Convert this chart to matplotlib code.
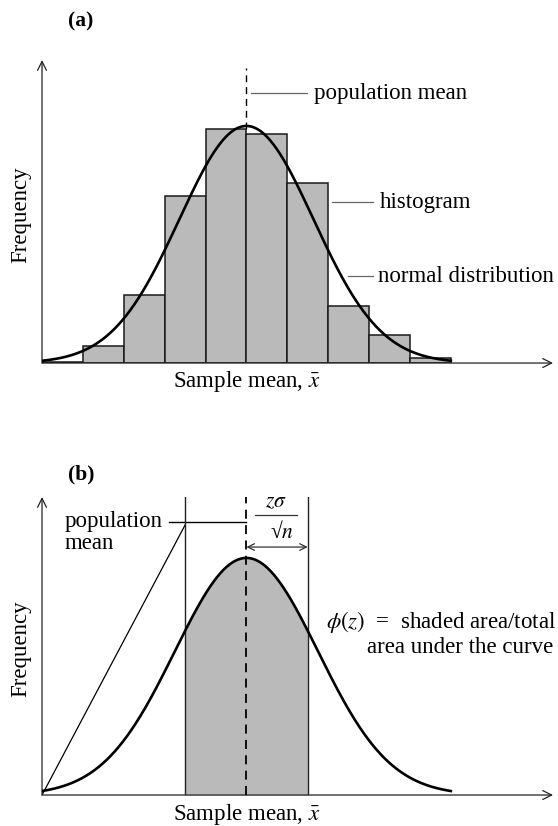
import numpy as np
import matplotlib
matplotlib.use("Agg")
from matplotlib import pyplot as plt

plt.rcParams['font.family'] = ['Liberation Serif', 'DejaVu Serif']
plt.rcParams['mathtext.fontset'] = 'stix'

# histogram of sample means, bins one unit wide centred on the population mean
bin_edges = [-5, -4, -3, -2, -1, 0, 1, 2, 3, 4]
frequencies = [0.4, 7.2, 28.7, 70.5, 98.7, 96.6, 76.0, 24.0, 11.8, 2.1]

# normal curves: mean, spread and peak height
MEAN = 0.0
SIGMA_A = 1.64
SIGMA_B = 1.75
PEAK = 100.0
Z = 1.5          # half width of the shaded band in (b)

X_MIN, X_MAX = -5.0, 7.5
FS = 16.5
LEADER = dict(color="#666666", lw=0.9)
FILL = "#bababa"


def normal(x, sigma):
    return PEAK * np.exp(-0.5 * ((x - MEAN) / sigma) ** 2)


def draw_axes(ax, top):
    ax.set_xlim(X_MIN, X_MAX)
    ax.set_ylim(0, top)
    ax.axis("off")
    arrow = dict(arrowstyle="->", lw=0.9, color="#222222", shrinkA=0, shrinkB=0, mutation_scale=16)
    ax.annotate("", xy=(X_MAX, 0), xytext=(X_MIN, 0), arrowprops=arrow)
    ax.annotate("", xy=(X_MIN, top), xytext=(X_MIN, 0), arrowprops=arrow)
    ax.text(X_MIN - 0.52, top * 0.49, "Frequency", rotation=90, ha="center", va="center", fontsize=FS)


fig = plt.figure(figsize=(5.58, 8.26), dpi=100)

# ---- (a) histogram with fitted normal curve ----
top_a = 127.8
ax = fig.add_axes([0.0753, 0.5605, 0.9158, 0.3668])
draw_axes(ax, top_a)

ax.bar(bin_edges, frequencies, width=1.0, align="edge", color=FILL,
       edgecolor="#1a1a1a", linewidth=1.1, zorder=2)
xs = np.linspace(-5, 5, 400)
ax.plot(xs, normal(xs, SIGMA_A), color="black", lw=1.9, zorder=4)
ax.plot([MEAN, MEAN], [frequencies[4], 124.5], color="black", lw=1.0, ls=(0, (5, 3.5)), zorder=3)

ax.plot([0.11, 1.48], [113.9, 113.9], **LEADER)
ax.text(1.65, 113.9, "population mean", ha="left", va="center", fontsize=FS)
ax.plot([2.09, 3.09], [67.9, 67.9], **LEADER)
ax.text(3.27, 67.9, "histogram", ha="left", va="center", fontsize=FS)
ax.plot([2.48, 3.09], [36.7, 36.7], **LEADER)
ax.text(3.22, 36.7, "normal distribution", ha="left", va="center", fontsize=FS)

ax.text(-4.05, 143.9, "(a)", ha="center", va="center", fontsize=FS - 1, fontweight="bold")
ax.text(MEAN, -8.0, r"Sample mean, $\bar{x}$", ha="center", va="center", fontsize=FS)

# ---- (b) shaded area within z sigma / sqrt(n) of the mean ----
top_b = 125.7
ax = fig.add_axes([0.0753, 0.0375, 0.9158, 0.3608])
draw_axes(ax, top_b)

xs = np.linspace(-5, 5, 400)
ys = normal(xs, SIGMA_B)
band = (xs >= MEAN - Z) & (xs <= MEAN + Z)
ax.fill_between(xs[band], ys[band], color=FILL, lw=0, zorder=1)
ax.plot(xs, ys, color="black", lw=1.9, zorder=4)

ax.plot([MEAN - Z, MEAN - Z], [0, top_b], color="#222222", lw=1.0, zorder=3)
ax.plot([MEAN + Z, MEAN + Z], [0, top_b], color="#222222", lw=1.0, zorder=3)
ax.plot([MEAN, MEAN], [0, top_b], color="black", lw=1.3, ls=(0, (5, 3.5)), zorder=3)

# thin line from the origin up to the left edge of the band
ax.plot([X_MIN, MEAN - Z], [0, 113.9], color="black", lw=0.9)
ax.plot([-1.9, MEAN], [115.2, 115.2], color="black", lw=1.0)
ax.text(-4.44, 115.2, "population", ha="left", va="center", fontsize=FS)
ax.text(-4.44, 106.0, "mean", ha="left", va="center", fontsize=FS)

ax.annotate("", xy=(MEAN + Z, 104.6), xytext=(MEAN, 104.6),
            arrowprops=dict(arrowstyle="<->", lw=0.9, color="#333333",
                            shrinkA=0, shrinkB=0, mutation_scale=12))
ax.text(0.72, 123.2, r"$z\sigma$", ha="center", va="center", fontsize=FS - 1)
ax.plot([0.21, 1.24], [118.1, 118.1], color="#333333", lw=0.9)
ax.text(0.86, 111.0, "√" + r"$n$", ha="center", va="center", fontsize=FS - 1)

ax.text(7.57, 73.0, r"$\phi(z)$  =  shaded area/total", ha="right", va="center", fontsize=FS)
ax.text(7.5, 62.4, "area under the curve", ha="right", va="center", fontsize=FS)

ax.text(-4.05, 135.0, "(b)", ha="center", va="center", fontsize=FS - 1, fontweight="bold")
ax.text(MEAN, -8.4, r"Sample mean, $\bar{x}$", ha="center", va="center", fontsize=FS)

fig.savefig("out.png", dpi=100)
